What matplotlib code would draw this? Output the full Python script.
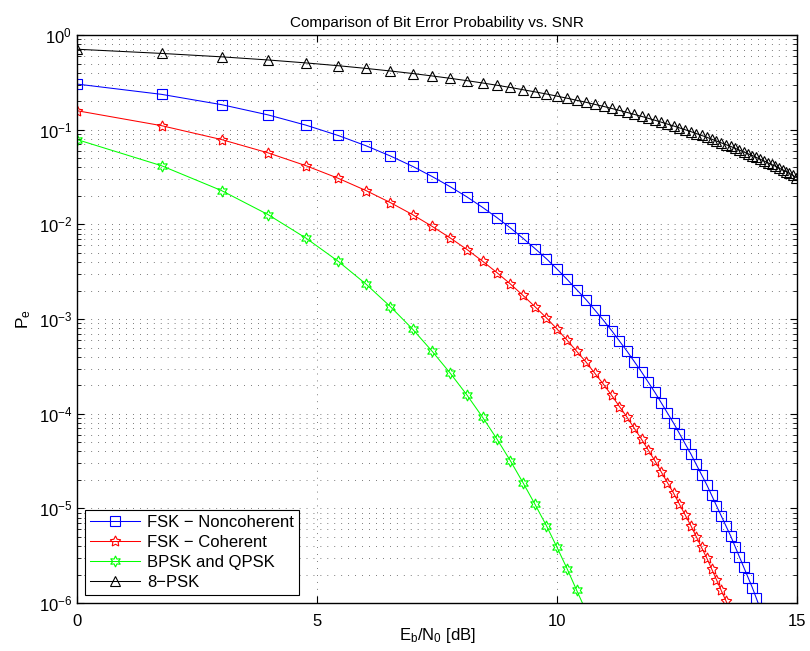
import numpy as np
import matplotlib
matplotlib.use("Agg")
import matplotlib.pyplot as plt
from matplotlib.ticker import LogLocator, NullFormatter, FixedLocator

plt.rcParams['font.family'] = ['Liberation Sans', 'DejaVu Sans']
plt.rcParams['mathtext.fontset'] = 'custom'
plt.rcParams['mathtext.rm'] = 'Liberation Sans'
plt.rcParams['mathtext.it'] = 'Liberation Sans'

# Eb/N0 points (dB)
ebn0_db = [0.00, 1.76, 3.01, 3.98, 4.77, 5.44, 6.02, 6.53, 6.99, 7.40,
           7.78, 8.13, 8.45, 8.75, 9.03, 9.29, 9.54, 9.78, 10.00, 10.21,
           10.41, 10.61, 10.79, 10.97, 11.14, 11.30, 11.46, 11.61, 11.76, 11.90,
           12.04, 12.17, 12.30, 12.43, 12.55, 12.67, 12.79, 12.90, 13.01, 13.12,
           13.22, 13.32, 13.42, 13.52, 13.62, 13.71, 13.80, 13.89, 13.98, 14.07,
           14.15, 14.23, 14.31, 14.39, 14.47, 14.55, 14.62, 14.70, 14.77, 14.84,
           14.91, 14.98]

fsk_noncoh = [0.3033, 0.2362, 0.1839, 0.1433, 0.1116, 0.08689, 0.06767, 0.05270,
              0.04104, 0.03197, 0.02489, 0.01939, 0.01510, 0.01176, 0.009158,
              0.007132, 0.005554, 0.004326, 0.003369, 0.002624, 0.002043, 0.001591,
              0.001239, 0.000965, 0.000752, 0.000585, 0.000456, 0.000355, 2.765e-4,
              2.153e-4, 1.677e-4, 1.306e-4, 1.017e-4, 7.92e-5, 6.17e-5, 4.80e-5,
              3.74e-5, 2.91e-5, 2.27e-5, 1.77e-5, 1.38e-5, 1.07e-5, 8.35e-6,
              6.50e-6, 5.07e-6, 3.94e-6, 3.07e-6, 2.39e-6, 1.86e-6, 1.45e-6,
              1.13e-6, 8.8e-7]

fsk_coh = [0.1587, 0.1103, 0.07865, 0.05692, 0.04163, 0.03068, 0.02275, 0.01695,
           0.01267, 0.00951, 0.007153, 0.005394, 0.004075, 0.003085, 0.002339,
           0.001776, 0.001350, 0.001027, 7.83e-4, 5.97e-4, 4.55e-4, 3.48e-4,
           2.66e-4, 2.036e-4, 1.558e-4, 1.190e-4, 9.15e-5, 7.01e-5, 5.38e-5,
           4.13e-5, 3.17e-5, 2.43e-5, 1.87e-5, 1.44e-5, 1.105e-5, 8.5e-6,
           6.54e-6, 5.03e-6, 3.87e-6, 2.98e-6, 2.30e-6, 1.77e-6, 1.36e-6,
           1.05e-6, 8.1e-7]

bpsk_qpsk = [0.07865, 0.04163, 0.02275, 0.01267, 0.007153, 0.004075, 0.002339,
             0.001350, 7.83e-4, 4.55e-4, 2.66e-4, 1.558e-4, 9.15e-5, 5.38e-5,
             3.17e-5, 1.87e-5, 1.105e-5, 6.54e-6, 3.87e-6, 2.30e-6, 1.36e-6, 8.1e-7]

psk8 = [0.7080, 0.6393, 0.5884, 0.5451, 0.5074, 0.4741, 0.4440, 0.4169, 0.3922,
        0.3694, 0.3485, 0.3292, 0.3113, 0.2947, 0.2791, 0.2645, 0.2510, 0.2382,
        0.2262, 0.2150, 0.2044, 0.1944, 0.1850, 0.1761, 0.1676, 0.1597, 0.1521,
        0.1450, 0.1383, 0.1319, 0.1258, 0.1201, 0.1146, 0.1094, 0.1045, 0.0998,
        0.0953, 0.0911, 0.0870, 0.0832, 0.0795, 0.0760, 0.0727, 0.0695, 0.0665,
        0.0636, 0.0608, 0.0582, 0.0557, 0.0533, 0.0510, 0.0488, 0.0468, 0.0448,
        0.0429, 0.0411, 0.0393, 0.0377, 0.0361, 0.0346, 0.0331, 0.0312]

x = np.array(ebn0_db)

fig = plt.figure(figsize=(8.1, 6.51), dpi=100)
ax = fig.add_axes([0.0951, 0.0737, 0.8889, 0.8725])

ms = 7
lw = 0.75
ax.semilogy(x[:len(fsk_noncoh)], fsk_noncoh, color='b', lw=lw, marker='s', ms=ms - 0.5,
            mfc='none', mew=0.8, label='FSK \u2212 Noncoherent')
ax.semilogy(x[:len(fsk_coh)], fsk_coh, color='r', lw=lw, marker=(5, 1, 0), ms=ms + 1,
            mfc='none', mew=0.8, label='FSK \u2212 Coherent')
ax.semilogy(x[:len(bpsk_qpsk)], bpsk_qpsk, color='#00ff00', lw=lw, marker=(6, 1, 0), ms=ms + 1,
            mfc='none', mew=0.8, label='BPSK and QPSK')
ax.semilogy(x[:len(psk8)], psk8, color='k', lw=lw, marker='^', ms=ms + 0.5,
            mfc='none', mew=0.8, label='8\u2212PSK')

ax.set_xlim(0, 15)
ax.set_ylim(1e-6, 1)
ax.xaxis.set_major_locator(FixedLocator([0, 5, 10, 15]))
ax.yaxis.set_major_locator(LogLocator(base=10, numticks=10))
ax.yaxis.set_minor_locator(LogLocator(base=10, subs=np.arange(2, 10), numticks=20))
ax.yaxis.set_minor_formatter(NullFormatter())

dots = (0, (1, 9))
ax.grid(True, which='major', axis='both', color='k', lw=0.5, linestyle=dots)
ax.grid(True, which='minor', axis='y', color='k', lw=0.5, linestyle=dots)

ax.tick_params(which='both', direction='in', top=True, right=True, labelsize=12)
ax.tick_params(which='major', length=5, width=0.8)
ax.tick_params(which='minor', length=3, width=0.6)
ax.tick_params(axis='x', which='major', pad=8)
for s in ax.spines.values():
    s.set_linewidth(1.0)

ax.set_title('Comparison of Bit Error Probability vs. SNR', fontsize=11, pad=6)
ax.set_xlabel(r'E$_\mathrm{b}$/N$_\mathrm{0}$ [dB]', fontsize=12, labelpad=-2)
ax.set_ylabel(r'P$_\mathrm{e}$', fontsize=12.5, labelpad=4)

leg = ax.legend(loc='lower left', fontsize=12, numpoints=1, handlelength=3.0,
                fancybox=False, framealpha=1, edgecolor='k', borderpad=0.3,
                labelspacing=0.3, handletextpad=0.4, borderaxespad=0.5)
leg.get_frame().set_linewidth(0.8)

fig.savefig('out.png', dpi=100)
